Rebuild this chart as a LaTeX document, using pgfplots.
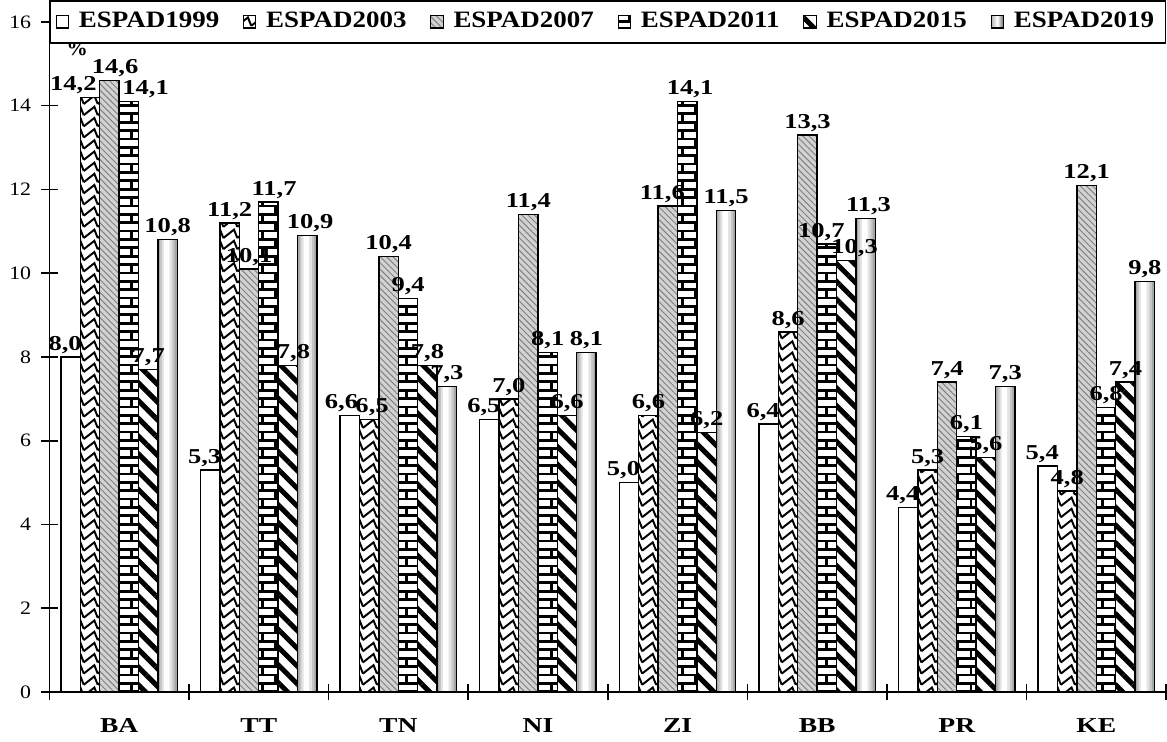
\documentclass[border=0pt]{standalone}
\usepackage{fontspec}
\setmainfont{Liberation Serif}
\usepackage{graphicx}
\usepackage{pgfplots}
\pgfplotsset{compat=1.18}
\usetikzlibrary{patterns,patterns.meta}

% bricks with thick joints, as in the source chart
\pgfdeclarepatternformonly{bigbricks}{\pgfqpoint{-1pt}{-1pt}}{\pgfqpoint{10.4pt}{7pt}}{\pgfqpoint{9.4pt}{6pt}}{
  \pgfsetlinewidth{1pt}
  \pgfpathmoveto{\pgfqpoint{-1pt}{0pt}}\pgfpathlineto{\pgfqpoint{10.4pt}{0pt}}
  \pgfpathmoveto{\pgfqpoint{-1pt}{3pt}}\pgfpathlineto{\pgfqpoint{10.4pt}{3pt}}
  \pgfpathmoveto{\pgfqpoint{0pt}{0pt}}\pgfpathlineto{\pgfqpoint{0pt}{3pt}}
  \pgfpathmoveto{\pgfqpoint{4.7pt}{3pt}}\pgfpathlineto{\pgfqpoint{4.7pt}{6pt}}
  \pgfusepath{stroke}}
% sawtooth for the 2003 bars
\pgfdeclarepatternformonly{sawtooth}{\pgfqpoint{-1pt}{-1pt}}{\pgfqpoint{6pt}{5pt}}{\pgfqpoint{5pt}{4pt}}{
  \pgfsetlinewidth{0.7pt}
  \pgfpathmoveto{\pgfqpoint{0pt}{0.5pt}}
  \pgfpathlineto{\pgfqpoint{3.8pt}{3.5pt}}
  \pgfpathlineto{\pgfqpoint{5pt}{0.5pt}}
  \pgfusepath{stroke}}

\newcommand{\wide}[1]{\scalebox{1.3}[1]{#1}}
\newcommand{\lwide}[1]{\scalebox{1.15}[1]{#1}}

% values, then label offsets (pt) so that neighbouring labels clear each other
\pgfplotstableread{
x    y99  y03  y07  y11  y15  y19  d99  d03  d07  d11  d15  d19
0.5  8.0  14.2 14.6 14.1 7.7  10.8 -2   -6   2    6    0    0
1.5  5.3  11.2 10.1 11.7 7.8  10.9 -2   0    0    2    2    1
2.5  6.6  6.5  10.4 9.4  7.8  7.3  -3   1    0    0    0    0
3.5  6.5  7.0  11.4 8.1  6.6  8.1  -2   0    0    0    0    0
4.5  5.0  6.6  11.6 14.1 6.2  11.5 -2   0    -2   1    0    0
5.5  6.4  8.6  13.3 10.7 10.3 11.3 -2   0    0    -2   3    1
6.5  4.4  5.3  7.4  6.1  5.6  7.3  -2   0    0    0    0    0
7.5  5.4  4.8  12.1 6.8  7.4  9.8  -2   0    0    0    0    0
}\espad

\begin{document}
\begin{tikzpicture}
\begin{axis}[
  scale only axis, width=400pt, height=240pt,
  ybar=0pt, bar width=0.139,
  xmin=0, xmax=8, ymin=0, ymax=16,
  axis x line=bottom, axis y line=left,
  axis line style={-, line width=0.6pt},
  xtick={0.5,1.5,...,7.5},
  xticklabels={\wide{BA},\wide{TT},\wide{TN},\wide{NI},\wide{ZI},\wide{BB},\wide{PR},\wide{KE}},
  x tick label style={font=\fontsize{7.6}{8}\selectfont\bfseries, yshift=-3pt},
  major x tick style={draw=none},
  minor xtick={0,1,...,8},
  minor tick length=6pt,
  ytick={0,2,...,16},
  yticklabel={\scalebox{1.15}[1]{\pgfmathprintnumber{\tick}}},
  y tick label style={font=\fontsize{6.8}{7}\selectfont},
  /pgf/number format/assume math mode=true,
  tick align=center, major tick length=6pt,
  tick style={black, line width=0.6pt},
  every axis plot/.append style={draw=black, line width=0.5pt},
  bar label/.style={
    visualization depends on={\thisrow{#1} \as \dx},
    nodes near coords={\scalebox{1.25}[1]{\pgfmathprintnumber{\pgfplotspointmeta}}},
    nodes near coords style={font=\fontsize{7.6}{8}\selectfont\bfseries, inner sep=1pt, xshift=\dx pt,
    /pgf/number format/.cd, fixed, fixed zerofill, precision=1, use comma}},
  legend columns=6,
  legend style={at={(0.5,1)}, anchor=center, draw=black, line width=0.6pt,
    font=\fontsize{8.4}{9}\selectfont\bfseries, inner sep=2pt,
    /tikz/every odd column/.append style={column sep=1.5pt},
    /tikz/every even column/.append style={column sep=6.5pt}},
  legend image code/.code={\draw[#1, line width=0.4pt] (0pt,-2.2pt) rectangle (4.4pt,2.2pt);},
  clip=false,
]
\addplot[bar shift=-0.3475, bar label=d99, fill=white] table[x=x,y=y99]{\espad};
\addplot[bar shift=-0.2085, bar label=d03, fill=white, postaction={pattern=sawtooth}] table[x=x,y=y03]{\espad};
\addplot[bar shift=-0.0695, bar label=d07, fill=gray!35, postaction={pattern={Lines[angle=-45,distance=1.6pt,line width=0.35pt]}, pattern color=gray}] table[x=x,y=y07]{\espad};
\addplot[bar shift=0.0695, bar label=d11, fill=white, postaction={pattern=bigbricks}] table[x=x,y=y11]{\espad};
\addplot[bar shift=0.2085, bar label=d15, fill=white, postaction={pattern={Lines[angle=-45,distance=4.5pt,line width=1.8pt]}}] table[x=x,y=y15]{\espad};
\addplot[bar shift=0.3475, bar label=d19, fill=gray!70,
  legend image code/.code={\draw[line width=0.4pt, left color=gray!60, right color=gray!80!black, middle color=white] (0pt,-2.2pt) rectangle (4.4pt,2.2pt);}]
  table[x=x,y=y19]{\espad};
% lighter inner strips give the 2019 bars their rounded look
\addplot[forget plot, draw=none, bar shift=0.3455, bar width=0.105, fill=gray!45] table[x=x,y=y19]{\espad};
\addplot[forget plot, draw=none, bar shift=0.3435, bar width=0.075, fill=gray!22] table[x=x,y=y19]{\espad};
\addplot[forget plot, draw=none, bar shift=0.3405, bar width=0.04, fill=white] table[x=x,y=y19]{\espad};
\addplot[forget plot, bar shift=0.3475, fill=none] table[x=x,y=y19]{\espad};
\legend{\lwide{ESPAD1999},\lwide{ESPAD2003},\lwide{ESPAD2007},\lwide{ESPAD2011},\lwide{ESPAD2015},\lwide{ESPAD2019}}
\node[font=\fontsize{7.6}{8}\selectfont\bfseries] at (rel axis cs:0.025,0.96) {\%};
\end{axis}
\end{tikzpicture}
\end{document}
